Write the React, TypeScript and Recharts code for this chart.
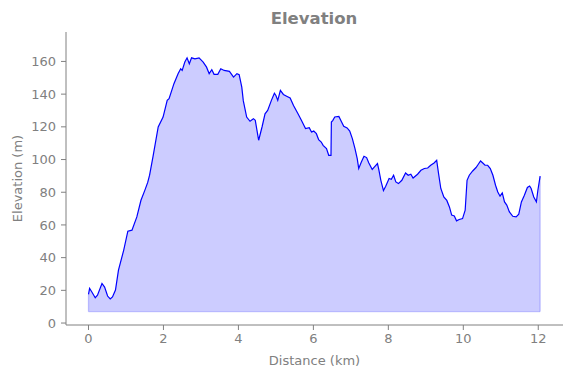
import React from 'react';
import { AreaChart, Area, Line, XAxis, YAxis, ReferenceLine } from 'recharts';

// distance along the route (km) and elevation (m)
const distKm = [
  0.0, 0.03, 0.09, 0.18, 0.24, 0.36, 0.43, 0.51, 0.58, 0.64, 0.72, 0.8, 0.94, 1.05, 1.16, 1.29, 1.4, 1.5,
  1.58, 1.63, 1.72, 1.86, 1.99, 2.1, 2.15, 2.28, 2.39, 2.46, 2.5, 2.57, 2.63, 2.69, 2.75, 2.84, 2.95, 3.06,
  3.15, 3.22, 3.29, 3.35, 3.45, 3.53, 3.62, 3.76, 3.87, 3.96, 4.02, 4.09, 4.13, 4.22, 4.31, 4.4, 4.45, 4.54,
  4.63, 4.71, 4.78, 4.88, 4.96, 5.0, 5.05, 5.12, 5.2, 5.3, 5.38, 5.47, 5.59, 5.68, 5.79, 5.89, 5.95, 6.01,
  6.08, 6.14, 6.21, 6.26, 6.35, 6.41, 6.47, 6.48, 6.52, 6.57, 6.68, 6.74, 6.81, 6.9, 6.97, 7.04, 7.11, 7.17,
  7.21, 7.28, 7.35, 7.42, 7.48, 7.57, 7.63, 7.71, 7.75, 7.8, 7.87, 7.93, 8.02, 8.08, 8.14, 8.2, 8.27, 8.36,
  8.46, 8.53, 8.6, 8.66, 8.78, 8.87, 8.96, 9.05, 9.13, 9.22, 9.29, 9.34, 9.4, 9.48, 9.56, 9.63, 9.69, 9.76,
  9.82, 9.89, 9.98, 10.05, 10.1, 10.16, 10.25, 10.34, 10.4, 10.46, 10.52, 10.58, 10.65, 10.72, 10.79, 10.86,
  10.92, 10.98, 11.04, 11.1, 11.16, 11.23, 11.32, 11.41, 11.48, 11.55, 11.63, 11.71, 11.77, 11.81, 11.88,
  11.95, 11.99, 12.05,
];
const elevM = [
  17.5, 21.2, 19, 15.5, 17, 24.2, 22, 16.5, 14.7, 16, 20.2, 32.4, 44.6, 56.2, 56.8, 64.9, 75.1, 81,
  86, 90.4, 101.6, 119.9, 126, 136.2, 137.2, 146.4, 152.5, 155.5, 154.5, 159.6, 162.2, 158.6, 162.2, 161.6, 162.2, 159.6,
  156.5, 152.5, 154.9, 152.1, 152.1, 155.5, 154.5, 153.9, 150.4, 152.5, 151.9, 144.3, 136, 126, 123.4, 125, 124, 111.8,
  119.9, 128, 130, 136.2, 140.6, 139.2, 136.2, 142.3, 139.8, 138.6, 137.6, 133.1, 128, 124, 118.9, 119.5, 116.8, 117.4,
  115.8, 112.2, 110.7, 108.7, 106.7, 102.6, 102.6, 122.9, 124, 126, 126.4, 123.5, 120.3, 119.3, 117.4, 112.8, 106.7, 100.6,
  94.5, 98.5, 102, 101.2, 97.9, 93.9, 95.5, 97.5, 93.4, 87.3, 81, 83.7, 88.4, 87.9, 90.4, 86.3, 85.3, 87.3,
  91.8, 90.4, 91, 88.7, 91, 93.4, 94.5, 94.8, 96.5, 97.9, 99.5, 91.4, 82.3, 77.1, 75, 71, 66, 65.5,
  62.5, 63.3, 63.9, 69, 87.3, 90.4, 93, 95.1, 97.1, 99.1, 97.9, 96.5, 96.5, 94.5, 90.4, 84.3,
  80.2, 77.6, 79.6, 74.1, 72.1, 68, 65.3, 64.9, 66.6, 74.1, 78.2, 82.9, 83.8, 82.3, 77.1,
  74.1, 81.2, 89.8,
];
const xTicks = [0, 2, 4, 6, 8, 10, 12];
const yTicks = [0, 20, 40, 60, 80, 100, 120, 140, 160];
const fillBase = 7;

const data = distKm.map((d, i) => ({ d, e: elevM[i] }));
const lastD = distKm[distKm.length - 1];

const gray = '#808080';
const font = 'DejaVu Sans';
const tickStyle = { fill: gray, fontSize: 13, fontFamily: font };

export default function App() {
  return (
    <div style={{ position: 'absolute', left: 0, top: 0, width: 571, height: 378, background: '#fff' }}>
      <div
        style={{
          position: 'absolute', left: 214, top: 9, width: 200, textAlign: 'center',
          fontFamily: font, fontWeight: 'bold', fontSize: 16.5, color: gray, lineHeight: 'normal',
        }}
      >
        Elevation
      </div>
      <AreaChart width={571} height={378} data={data} margin={{ top: 32, right: 8, left: 0, bottom: 0 }}>
        <XAxis
          dataKey="d"
          type="number"
          domain={[-0.6, 12.66]}
          ticks={xTicks}
          allowDataOverflow
          height={53}
          stroke={gray}
          tick={tickStyle}
          tickSize={5}
          tickMargin={4}
          label={{ value: 'Distance (km)', position: 'insideBottom', offset: 13, fill: gray, fontSize: 13, fontFamily: font }}
        />
        <YAxis
          type="number"
          domain={[-1.2, 178]}
          ticks={yTicks}
          allowDataOverflow
          width={66}
          stroke={gray}
          tick={tickStyle}
          tickSize={5}
          tickMargin={5}
          label={{
            value: 'Elevation (m)', angle: -90, position: 'insideLeft', offset: 17,
            fill: gray, fontSize: 13, fontFamily: font, style: { textAnchor: 'middle' },
          }}
        />
        <Area
          type="linear"
          dataKey="e"
          baseValue={fillBase}
          stroke="none"
          fill="#0000ff"
          fillOpacity={0.2}
          isAnimationActive={false}
        />
        <ReferenceLine segment={[{ x: 0, y: fillBase }, { x: lastD, y: fillBase }]} stroke="#0000ff" strokeOpacity={0.2} strokeWidth={1.3} />
        <ReferenceLine segment={[{ x: 0, y: fillBase }, { x: 0, y: elevM[0] }]} stroke="#0000ff" strokeOpacity={0.2} strokeWidth={1.3} />
        <ReferenceLine segment={[{ x: lastD, y: fillBase }, { x: lastD, y: elevM[elevM.length - 1] }]} stroke="#0000ff" strokeOpacity={0.2} strokeWidth={1.3} />
        <Line type="linear" dataKey="e" stroke="#0000ff" strokeWidth={1.2} dot={false} activeDot={false} isAnimationActive={false} />
      </AreaChart>
    </div>
  );
}
